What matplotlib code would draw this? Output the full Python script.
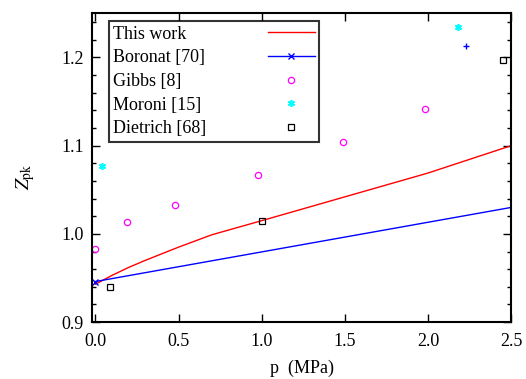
import numpy as np
import matplotlib.pyplot as plt
from matplotlib.ticker import MultipleLocator

plt.rcParams['font.family'] = ['Liberation Serif', 'DejaVu Serif']
plt.rcParams['mathtext.fontset'] = 'stix'

# This work (model curve)
p_work = [0.0, 0.1, 0.2, 0.3, 0.5, 0.7, 1.0, 1.5, 2.0, 2.5]
z_work = [0.943, 0.953, 0.962, 0.970, 0.985, 0.999, 1.015, 1.042, 1.069, 1.100]

# Boronat [70]
p_bor = [0.0, 2.5]
z_bor = [0.946, 1.030]
p_bor_pt = [2.23]
z_bor_pt = [1.213]

# Gibbs [8]
p_gib = [0.0, 0.19, 0.48, 0.98, 1.49, 1.98]
z_gib = [0.983, 1.013, 1.033, 1.067, 1.104, 1.142]

# Moroni [15]
p_mor = [0.04, 2.18]
z_mor = [1.077, 1.235]

# Dietrich [68]
p_die = [0.09, 1.0, 2.45]
z_die = [0.940, 1.015, 1.197]

fig = plt.figure(figsize=(5.26, 3.79), dpi=100)
ax = fig.add_axes([0.175, 0.15, 0.797, 0.815])

ax.plot(p_work, z_work, color='red', lw=1, label='This work')
ax.plot(p_bor, z_bor, color='blue', lw=1, marker='x', ms=4, mew=1,
        markevery=[0], label='Boronat [70]')
ax.plot(p_bor_pt, z_bor_pt, ls='none', color='blue', marker='+', ms=5, mew=1)
ax.plot(p_gib, z_gib, ls='none', color='magenta', marker='o', ms=4.5,
        mfc='none', mew=0.9, label='Gibbs [8]')
ax.plot(p_mor, z_mor, ls='none', color='cyan', marker=(6, 2, 0), ms=5,
        mew=1.2, label='Moroni [15]')
ax.plot(p_die, z_die, ls='none', color='black', marker='s', ms=4.5,
        mfc='none', mew=0.9, label='Dietrich [68]')

ax.set_xlim(-0.02, 2.5)
ax.set_ylim(0.9, 1.25)
ax.xaxis.set_major_locator(MultipleLocator(0.5))
ax.yaxis.set_major_locator(MultipleLocator(0.1))
ax.yaxis.set_minor_locator(MultipleLocator(0.02))
ax.xaxis.set_major_formatter(plt.FormatStrFormatter('%.1f'))
ax.yaxis.set_major_formatter(plt.FormatStrFormatter('%.1f'))
ax.tick_params(which='both', direction='in', top=True, right=True,
               labelsize=13, width=1)
ax.tick_params(which='major', length=6)
ax.tick_params(which='minor', length=3)
ax.tick_params(axis='x', pad=8)
ax.tick_params(axis='y', pad=6)
for s in ax.spines.values():
    s.set_linewidth(1.5)

ax.set_xlabel('p  (MPa)', fontsize=13, labelpad=7)
ax.set_ylabel(r'$Z_{\mathrm{pk}}$', fontsize=14)
ax.yaxis.set_label_coords(-0.132, 0.47)

leg = ax.legend(loc='upper left', bbox_to_anchor=(0.04, 0.975), fontsize=13,
                markerfirst=False, frameon=True, fancybox=False,
                handlelength=2.6, handletextpad=3.4, borderpad=0.25,
                labelspacing=0.37, borderaxespad=0)
leg.get_frame().set_edgecolor('black')
leg.get_frame().set_linewidth(1.5)

# left-align the legend texts (markerfirst=False right-aligns them)
fig.canvas.draw()
r = fig.canvas.get_renderer()
widths = [t.get_window_extent(r).width for t in leg.get_texts()]
wmax = max(widths)
for t, w in zip(leg.get_texts(), widths):
    t.set_position((-(wmax - w), 0))

fig.savefig('out.png', dpi=100)
